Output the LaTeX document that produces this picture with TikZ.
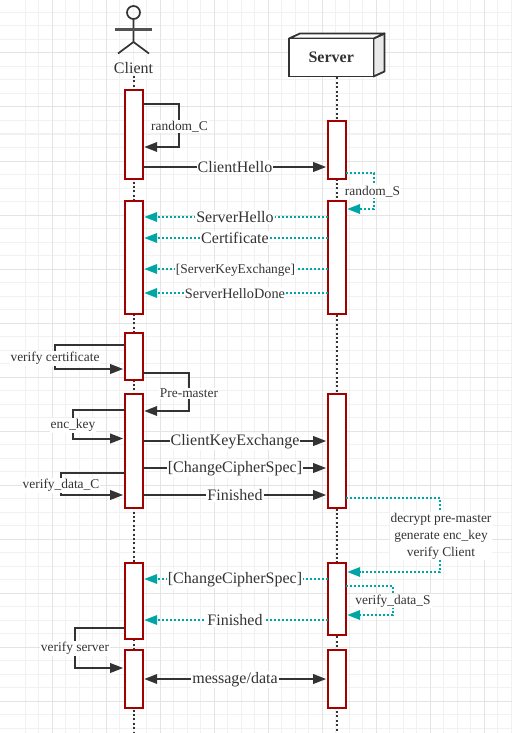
\documentclass[tikz,border=0pt]{standalone}
\usepackage{fontspec}
\setmainfont{Liberation Serif}
\usetikzlibrary{arrows.meta}
\definecolor{lineC}{HTML}{333333}
\definecolor{tealC}{HTML}{00A6A6}
\definecolor{barC}{HTML}{A50000}
\definecolor{gridA}{HTML}{E4E4E4}
\definecolor{gridB}{HTML}{F1F1F1}
\tikzset{
  bar/.style={draw=barC,fill=white,line width=1.9pt,minimum width=18pt,inner sep=0pt,outer sep=0pt},
  life/.style={draw=lineC,line width=1.8pt,dash pattern=on 2pt off 2.4pt},
  msg/.style={draw=lineC,line width=2pt,-{Triangle[length=13pt,width=9.5pt,fill=lineC]},shorten >=1.5pt},
  rep/.style={draw=tealC,line width=1.9pt,dash pattern=on 2pt off 2pt,-{Triangle[length=13pt,width=9.5pt,fill=tealC]},shorten >=1.5pt},
  big/.style={fill=white,inner sep=1pt,text=lineC,font=\fontsize{16}{18}\selectfont},
  mid/.style={fill=white,inner sep=1pt,text=lineC,font=\fontsize{14.3}{16}\selectfont},
  small/.style={fill=white,inner sep=1pt,text=lineC,font=\fontsize{13.4}{17}\selectfont},
  tiny/.style={fill=white,inner sep=1pt,text=lineC,font=\fontsize{13.4}{17}\selectfont,align=center},
}
\begin{document}
\begin{tikzpicture}[x=1pt,y=-1pt]
\useasboundingbox (0,0) rectangle (512,733);
\fill[white] (0,0) rectangle (512,733);
% grid
\foreach \k in {-2,...,34} {
  \pgfmathsetmacro\gx{52+13.5*\k}
  \draw[gridB,line width=1pt] (\gx,0) -- (\gx,733);
}
\foreach \k in {-3,...,50} {
  \pgfmathsetmacro\gy{53+13.5*\k}
  \draw[gridB,line width=1pt] (0,\gy) -- (512,\gy);
}
\foreach \k in {0,...,8} {
  \pgfmathsetmacro\gx{52+54*\k}
  \draw[gridA,line width=1pt] (\gx,0) -- (\gx,733);
}
\foreach \k in {0,...,12} {
  \pgfmathsetmacro\gy{53+54*\k}
  \draw[gridA,line width=1pt] (0,\gy) -- (512,\gy);
}
% client actor
\draw[lineC,line width=1.7pt] (133.5,12.5) circle (6.5);
\draw[lineC,line width=1.7pt] (133.5,19) -- (133.5,42) (118,53.5) -- (133.5,42) -- (149,53.5);
\draw[lineC!85,line width=2.2pt] (115,29.5) -- (152,29.5);
\node[big,fill=none] (client) at (133.5,68) {Client};
% server cube
\filldraw[lineC,fill=gridA!80!white,line width=1.8pt,line join=round] (373.5,38.5) -- (384.5,33.5) -- (384.5,71.5) -- (373.5,76.5) -- cycle;
\filldraw[lineC,fill=white,line width=1.8pt,line join=round] (289,38.5) -- (300,33.5) -- (384.5,33.5) -- (373.5,38.5) -- cycle;
\node[draw=lineC,fill=white,line width=1.8pt,minimum width=84.5pt,minimum height=38pt,inner sep=0pt,text=lineC,font=\fontsize{16}{18}\selectfont\bfseries] (server) at (331.2,57.5) {Server};
% lifelines
\coordinate (cend) at (133.7,733);
\coordinate (send) at (336.7,733);
\draw[life] (133.7,76) -- (cend);
\draw[life] (server.south -| send) -- (send);
% activation bars
\node[bar,minimum height=88.5pt] (c1) at (133.7,134.7) {};
\node[bar,minimum height=112.5pt] (c2) at (133.7,257.5) {};
\node[bar,minimum height=46.5pt] (c3) at (133.7,356.5) {};
\node[bar,minimum height=113.5pt] (c4) at (133.7,451) {};
\node[bar,minimum height=75.5pt] (c5) at (133.7,601) {};
\node[bar,minimum height=58pt] (c6) at (133.7,679) {};
\node[bar,minimum height=57.5pt] (s1) at (336.7,150) {};
\node[bar,minimum height=112.5pt] (s2) at (336.7,257.5) {};
\node[bar,minimum height=113.5pt] (s3) at (336.7,451) {};
\node[bar,minimum height=71.5pt] (s4) at (336.7,599) {};
\node[bar,minimum height=58pt] (s5) at (336.7,679) {};
% client self messages
\draw[msg] (c1.east |- 0,104) -- (179,104) -- (179,147) -- (c1.east |- 0,147);
\draw[msg] (c3.east |- 0,372.5) -- (189,372.5) -- (189,411) -- (c4.east |- 0,411);
\draw[msg] (c3.west |- 0,345) -- (55,345) -- (55,369) -- (c3.west |- 0,369);
\draw[msg] (c4.west |- 0,410) -- (73,410) -- (73,438.5) -- (c4.west |- 0,438.5);
\draw[msg] (c4.west |- 0,473) -- (61,473) -- (61,495) -- (c4.west |- 0,495);
\draw[msg] (c5.west |- 0,628) -- (75,628) -- (75,668) -- (c6.west |- 0,668);
% server self messages
\draw[rep] (s1.east |- 0,173) -- (374,173) -- (374,209) -- (s2.east |- 0,209);
\draw[rep] (s3.east |- 0,498) -- (440,498) -- (440,572) -- (s4.east |- 0,572);
\draw[rep] (s4.east |- 0,586) -- (393,586) -- (393,615) -- (s4.east |- 0,615);
% client to server
\draw[msg] (c1.east |- 0,167) -- (s1.west |- 0,167);
\draw[msg] (c4.east |- 0,441) -- (s3.west |- 0,441);
\draw[msg] (c4.east |- 0,468) -- (s3.west |- 0,468);
\draw[msg] (c4.east |- 0,495) -- (s3.west |- 0,495);
% server to client
\draw[rep] (s2.west |- 0,217) -- (c2.east |- 0,217);
\draw[rep] (s2.west |- 0,238) -- (c2.east |- 0,238);
\draw[rep] (s2.west |- 0,269) -- (c2.east |- 0,269);
\draw[rep] (s2.west |- 0,293) -- (c2.east |- 0,293);
\draw[rep] (s4.west |- 0,579) -- (c5.east |- 0,579);
\draw[rep] (s4.west |- 0,620) -- (c5.east |- 0,620);
% both ways
\draw[msg,{Triangle[length=13pt,width=9.5pt,fill=lineC]}-{Triangle[length=13pt,width=9.5pt,fill=lineC]},shorten <=1.5pt] (c6.east |- 0,679) -- (s5.west |- 0,679);
% labels
\node[small] (lrc) at (179.5,126.5) {random\_C};
\node[big] (lch) at (235,166.8) {ClientHello};
\node[small] (lrs) at (372.5,191.5) {random\_S};
\node[big] (lsh) at (235,217) {ServerHello};
\node[big] (lce) at (235,238) {Certificate};
\node[tiny] (lske) at (235.5,270) {[ServerKeyExchange]};
\node[mid] (lshd) at (235,293.5) {ServerHelloDone};
\node[small] (lvc) at (55,358.5) {verify certificate};
\node[small] (lpm) at (189,393.5) {Pre-master};
\node[small] (lek) at (73,425.5) {enc\_key};
\node[small] (lvdc) at (61,485.5) {verify\_data\_C};
\node[big] (lcke) at (235,441.5) {ClientKeyExchange};
\node[big] (lccs) at (235,468.5) {[ChangeCipherSpec]};
\node[big] (lfin) at (235,495.5) {Finished};
\node[tiny] (ldec) at (441,536) {decrypt pre-master\\generate enc\_key\\verify Client};
\node[big] (lccs2) at (235,579.5) {[ChangeCipherSpec]};
\node[big] (lfin2) at (235,620) {Finished};
\node[small] (lvds) at (393,601) {verify\_data\_S};
\node[small] (lvs) at (75,648.5) {verify server};
\node[big] (lmd) at (235,679.5) {message/data};
\end{tikzpicture}
\end{document}
